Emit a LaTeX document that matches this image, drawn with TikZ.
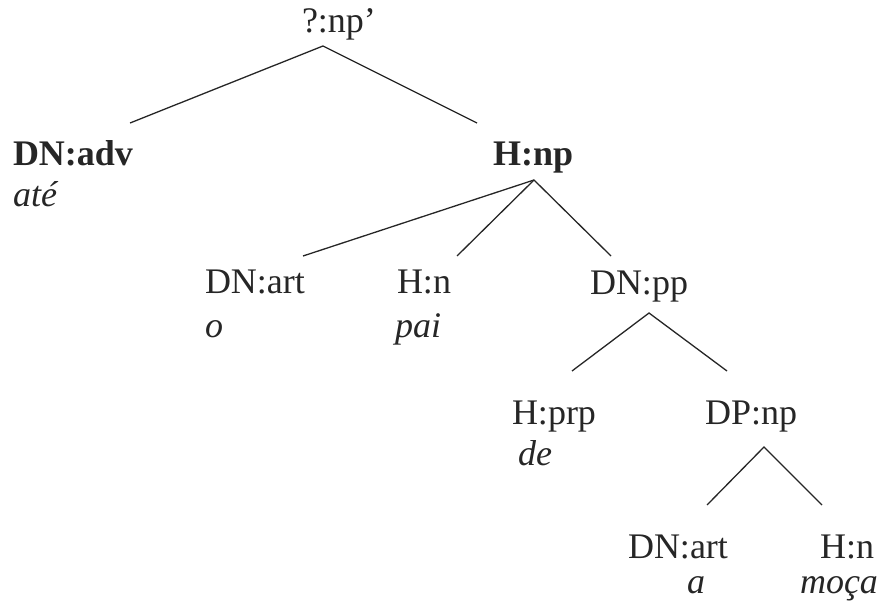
\documentclass[tikz,border=0pt]{standalone}
\usepackage{fontspec}
\setmainfont{Liberation Serif}
\begin{document}
\begin{tikzpicture}[x=1pt,y=-1pt,
  lab/.style={anchor=base west,inner sep=0pt,outer sep=0pt,font=\fontsize{36}{40}\selectfont,text=black!85},
  word/.style={lab,font=\fontsize{36}{40}\selectfont\itshape},
  bl/.style={lab,font=\fontsize{36}{40}\selectfont\bfseries},
  edge/.style={line width=1.3pt,draw=black!85}]
\useasboundingbox (0,0) rectangle (883,604);
% labels
\node[lab] (root) at (302,33) {?:np’};
\node[bl] (dnadv) at (13,166) {DN:adv};
\node[word] (ate) at (13,207) {até};
\node[bl] (hnp) at (493,166) {H:np};
\node[lab] (dnart1) at (205,293) {DN:art};
\node[word] (o) at (205,337) {o};
\node[lab] (hn1) at (397,293) {H:n};
\node[word] (pai) at (395,337) {pai};
\node[lab] (dnpp) at (590,294) {DN:pp};
\node[lab] (hprp) at (512,424) {H:prp};
\node[word] (de) at (518,465) {de};
\node[lab] (dpnp) at (705,424) {DP:np};
\node[lab] (dnart2) at (628,558) {DN:art};
\node[word] (a) at (687,593) {a};
\node[lab] (hn2) at (820,558) {H:n};
\node[word] (moca) at (800,593) {moça};
% connector end points
\coordinate (rootA) at (323,46);
\coordinate (dnadvT) at (130,123);
\coordinate (hnpT) at (477,123);
\coordinate (hnpA) at (534,180);
\coordinate (dnart1T) at (303,256);
\coordinate (hn1T) at (457,256);
\coordinate (dnppT) at (611,256);
\coordinate (dnppA) at (649,313);
\coordinate (hprpT) at (572,371);
\coordinate (dpnpT) at (727,371);
\coordinate (dpnpA) at (764,447);
\coordinate (dnart2T) at (707,505);
\coordinate (hn2T) at (822,505);
% connectors
\draw[edge] (dnadvT) -- (rootA) -- (hnpT);
\draw[edge] (dnart1T) -- (hnpA) -- (dnppT);
\draw[edge] (hn1T) -- (hnpA);
\draw[edge] (hprpT) -- (dnppA) -- (dpnpT);
\draw[edge] (dnart2T) -- (dpnpA) -- (hn2T);
\end{tikzpicture}
\end{document}
